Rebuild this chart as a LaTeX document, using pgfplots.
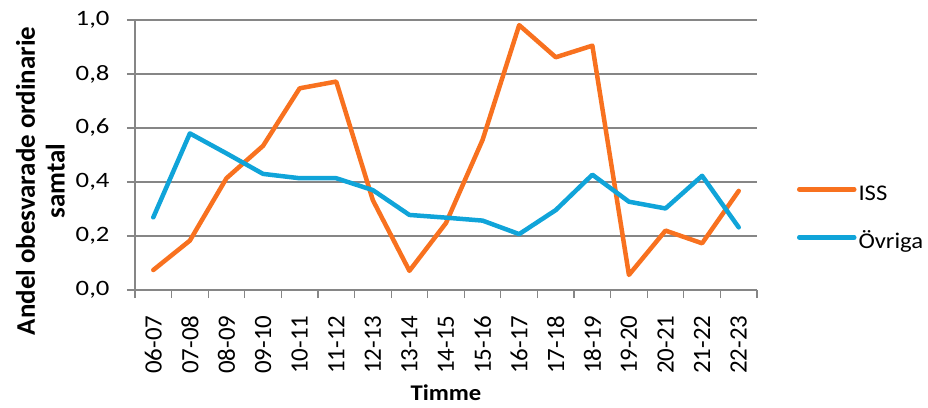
\documentclass[border=0pt]{standalone}
\usepackage{fontspec}
\setmainfont{Carlito}
\newfontfamily\wide[FakeStretch=1.1]{Carlito}
\newfontfamily\wider[FakeStretch=1.22]{Carlito}
\usepackage{pgfplots}
\pgfplotsset{compat=1.18}

\definecolor{issorange}{RGB}{248,113,31}
\definecolor{ovrblue}{RGB}{16,164,217}
\definecolor{axgray}{RGB}{134,134,134}

\begin{document}
\begin{tikzpicture}
\path[use as bounding box] (-135bp,-118bp) rectangle (793bp,290bp);
\begin{axis}[
  scale only axis,
  width=622bp, height=270bp,
  xmin=-0.5, xmax=16.5,
  ymin=0, ymax=1,
  axis x line=bottom, axis y line=left,
  axis line style={-, draw=axgray, line width=1.2bp},
  xtick={0,...,16},
  xticklabels={06-07,07-08,08-09,09-10,10-11,11-12,12-13,13-14,14-15,15-16,16-17,17-18,18-19,19-20,20-21,21-22,22-23},
  major x tick style={draw=none},
  minor xtick={-0.5,0.5,...,16.5},
  minor x tick style={draw=axgray, line width=1.2bp},
  minor tick length=8bp,
  ytick={0,0.2,...,1.0},
  major y tick style={draw=axgray, line width=1.2bp},
  major tick length=8bp,
  tick align=outside,
  ymajorgrids,
  grid style={axgray, line width=1.2bp},
  /pgf/number format/.cd, fixed, fixed zerofill, precision=1, use comma, assume math mode=true,
  /pgfplots/.cd,
  yticklabel style={font=\wider\fontsize{22}{26}\selectfont, xshift=-14bp},
  xticklabel style={font=\fontsize{25}{29}\selectfont, rotate=90, anchor=east, xshift=-14bp},
  xlabel={Timme},
  xlabel style={font=\wide\fontsize{22.5}{26}\selectfont\bfseries, at={(axis description cs:0.5,0)}, anchor=center, yshift=-103bp},
  ylabel={Andel obesvarade ordinarie\\samtal},
  ylabel style={font=\fontsize{27}{30}\selectfont\bfseries, align=center, at={(axis description cs:-0.152,0.404)}, anchor=center},
  legend style={draw=none, fill=none, at={(rel axis cs:1.064,0.263)}, anchor=west, inner sep=0pt,
    font=\wide\fontsize{22.5}{26}\selectfont, row sep=27bp,
    nodes={inner xsep=2bp, inner ysep=0pt, text height=16bp, text depth=5bp}},
  legend cell align=left,
  legend image code/.code={\draw[#1, line width=4.5bp, line cap=round] (0bp,5.5bp) -- (55bp,5.5bp);},
  every axis plot/.append style={line width=4.5bp, line join=round, line cap=round},
]
\addplot[issorange] coordinates {
  (0,0.074) (1,0.183) (2,0.414) (3,0.534) (4,0.747) (5,0.772) (6,0.333) (7,0.071) (8,0.248)
  (9,0.556) (10,0.981) (11,0.862) (12,0.905) (13,0.056) (14,0.220) (15,0.173) (16,0.367)};
\addlegendentry{ISS}
\addplot[ovrblue] coordinates {
  (0,0.269) (1,0.580) (2,0.506) (3,0.430) (4,0.414) (5,0.414) (6,0.370) (7,0.278) (8,0.268)
  (9,0.257) (10,0.207) (11,0.296) (12,0.427) (13,0.327) (14,0.302) (15,0.423) (16,0.232)};
\addlegendentry{Övriga}
\end{axis}
\end{tikzpicture}
\end{document}
